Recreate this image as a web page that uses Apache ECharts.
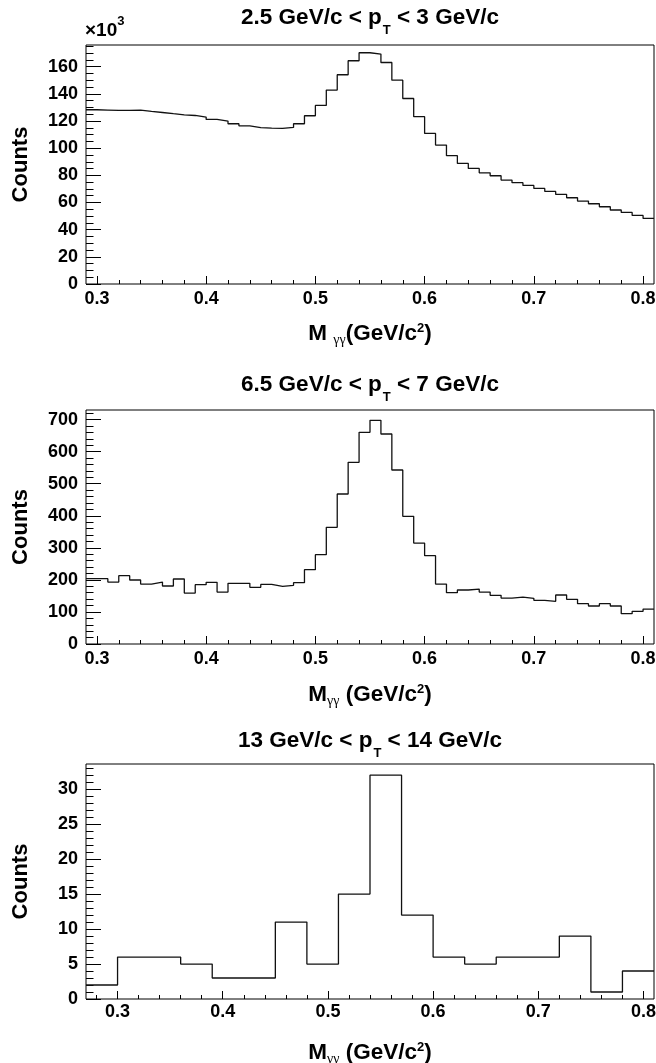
<!DOCTYPE html>
<html>
<head>
<meta charset="utf-8">
<script src="https://cdn.jsdelivr.net/npm/echarts@6/dist/echarts.min.js"></script>
<style>
  html, body { margin: 0; padding: 0; background: #fff; }
  #chart { width: 656px; height: 1063px; }
</style>
</head>
<body>
<div id="chart"></div>
<script>
// --- data ---

// 2.5 GeV/c < pT < 3 GeV/c, counts in units of 10^3, bins of 0.01 from 0.29
const binLo1 = 0.29;
const binW1 = 0.01;
const counts1 = [
  128.3, 128.1, 127.8, 127.8, 128.1, 127.1, 126.3, 125.4, 124.6, 124.1,
  122.9, 121.2, 120.0, 118.0, 116.5, 115.1, 114.8, 114.6, 115.3, 118.0,
  123.9, 131.5, 142.8, 154.1, 164.4, 170.3, 169.3, 163.1, 150.1, 136.6,
  123.2, 110.9, 102.3, 94.5, 88.8, 85.1, 81.9, 79.7, 76.5, 74.6,
  72.6, 70.4, 68.2, 66.0, 63.5, 61.1, 59.1, 56.9, 54.5, 52.7,
  50.5, 48.3
];

// 6.5 GeV/c < pT < 7 GeV/c, bins of 0.01 from 0.29
const binLo2 = 0.29;
const binW2 = 0.01;
const counts2 = [
  203.7, 203.7, 193.3, 213.1, 199.6, 187.1, 193.3, 180.9, 202.7, 159.0,
  185.0, 192.3, 162.1, 189.2, 189.2, 176.7, 186.0, 179.8, 182.9, 191.3,
  231.8, 278.6, 363.9, 467.9, 566.7, 660.3, 697.7, 655.1, 542.8, 398.2,
  315.0, 275.5, 187.1, 160.1, 168.4, 171.5, 162.1, 151.7, 143.4, 146.5,
  142.4, 136.1, 133.0, 152.8, 139.3, 125.7, 118.5, 125.7, 118.5, 94.5,
  101.8, 109.1
];

// 13 GeV/c < pT < 14 GeV/c, bins of 0.03 from 0.27
const binLo3 = 0.27;
const binW3 = 0.03;
const counts3 = [2, 6, 6, 5, 3, 3, 11, 5, 15, 32, 12, 6, 5, 6, 6, 9, 1, 4];

// tick labels
const massTicks = [0.3, 0.4, 0.5, 0.6, 0.7, 0.8];
const massMinorStep = 0.02;
const yTicks1 = [0, 20, 40, 60, 80, 100, 120, 140, 160];
const yTicks2 = [0, 100, 200, 300, 400, 500, 600, 700];
const yTicks3 = [0, 5, 10, 15, 20, 25, 30];

const titles = [
  '{t|2.5 GeV/c < p}{s|T}{t| < 3 GeV/c}',
  '{t|6.5 GeV/c < p}{s|T}{t| < 7 GeV/c}',
  '{t|13 GeV/c < p}{s|T}{t| < 14 GeV/c}'
];
const massNames = [
  '{m|M }{g|γγ}{m|(GeV/c}{sup|2}{m|)}',
  '{m|M}{g|γγ}{m| (GeV/c}{sup|2}{m|)}',
  '{m|M}{g|γγ}{m| (GeV/c}{sup|2}{m|)}'
];

// --- layout ---
const fontFamily = 'Liberation Sans, Arial, Helvetica, sans-serif';
const frameLeft = 86;
const frameWidth = 568;
const panels = [
  { top: 45, height: 239, xMin: 0.29, xMax: 0.81, yMax: 176, yTicks: yTicks1, yMinorStep: 5,
    lo: binLo1, w: binW1, counts: counts1, titleTop: 6, labelGap: 6, nameGap: 38 },
  { top: 410, height: 234, xMin: 0.29, xMax: 0.81, yMax: 730, yTicks: yTicks2, yMinorStep: 20,
    lo: binLo2, w: binW2, counts: counts2, titleTop: 373, labelGap: 6, nameGap: 39 },
  { top: 764, height: 235, xMin: 0.27, xMax: 0.81, yMax: 33.6, yTicks: yTicks3, yMinorStep: 1,
    lo: binLo3, w: binW3, counts: counts3, titleTop: 729, labelGap: 4, nameGap: 42 }
];

function minorValues(lo, hi, step, majors) {
  const out = [];
  const n = Math.floor(hi / step + 1e-6);
  for (let k = Math.ceil(lo / step - 1e-6); k <= n; k++) {
    const v = +(k * step).toFixed(4);
    if (v <= lo || v >= hi) continue;
    if (majors.some(m => Math.abs(m - v) < 1e-6)) continue;
    out.push(v);
  }
  return out;
}

function histPoints(lo, w, counts) {
  const pts = counts.map((c, i) => [+(lo + i * w).toFixed(4), c]);
  pts.push([+(lo + counts.length * w).toFixed(4), counts[counts.length - 1]]);
  return pts;
}

const labelStyle = { fontSize: 18, fontWeight: 'bold', fontFamily: fontFamily, color: '#000' };
const nameRich = {
  m: { fontSize: 22.5, fontWeight: 'bold', fontFamily: fontFamily, color: '#000', lineHeight: 24, verticalAlign: 'top' },
  g: { fontSize: 14, fontFamily: 'Liberation Serif, serif', color: '#000', lineHeight: 14, padding: [11, 0, 0, 0], verticalAlign: 'top' },
  sup: { fontSize: 13, fontWeight: 'bold', fontFamily: fontFamily, color: '#000', lineHeight: 12, verticalAlign: 'top' }
};
const titleRich = {
  t: { fontSize: 22.5, fontWeight: 'bold', fontFamily: fontFamily, fill: '#000', lineHeight: 24, verticalAlign: 'top' },
  s: { fontSize: 13, fontWeight: 'bold', fontFamily: fontFamily, fill: '#000', lineHeight: 12, padding: [18, 0, 0, 1], verticalAlign: 'top' }
};

const grids = [], xAxes = [], yAxes = [], series = [], graphics = [];

panels.forEach((p, i) => {
  grids.push({
    left: frameLeft, top: p.top, width: frameWidth, height: p.height,
    outerBoundsMode: 'none', containLabel: false,
    show: true, borderColor: '#000', borderWidth: 1, backgroundColor: 'transparent'
  });

  const xBase = {
    type: 'value', gridIndex: i, min: p.xMin, max: p.xMax, position: 'bottom',
    axisLine: { show: false }, splitLine: { show: false }
  };
  xAxes.push(Object.assign({}, xBase, {
    axisTick: { inside: true, length: 8, customValues: massTicks, lineStyle: { color: '#000' } },
    axisLabel: Object.assign({ customValues: massTicks, margin: p.labelGap, formatter: v => v.toFixed(1) }, labelStyle),
    name: massNames[i], nameLocation: 'middle', nameGap: p.nameGap,
    nameTextStyle: { rich: nameRich }
  }));
  xAxes.push(Object.assign({}, xBase, {
    axisTick: { inside: true, length: 4,
      customValues: minorValues(p.xMin, p.xMax, massMinorStep, massTicks), lineStyle: { color: '#000' } },
    axisLabel: { show: false }
  }));

  const yBase = {
    type: 'value', gridIndex: i, min: 0, max: p.yMax, position: 'left',
    axisLine: { show: false }, splitLine: { show: false }
  };
  yAxes.push(Object.assign({}, yBase, {
    axisTick: { inside: true, length: 15, customValues: p.yTicks, lineStyle: { color: '#000' } },
    axisLabel: Object.assign({ customValues: p.yTicks, margin: 8 }, labelStyle),
    name: 'Counts', nameLocation: 'middle', nameRotate: 90, nameGap: 54,
    nameTextStyle: { fontSize: 22, fontWeight: 'bold', fontFamily: fontFamily, color: '#000' }
  }));
  yAxes.push(Object.assign({}, yBase, {
    axisTick: { inside: true, length: 7.5,
      customValues: minorValues(0, p.yMax, p.yMinorStep, p.yTicks), lineStyle: { color: '#000' } },
    axisLabel: { show: false }
  }));

  series.push({
    type: 'line', step: 'end', xAxisIndex: 2 * i, yAxisIndex: 2 * i,
    data: histPoints(p.lo, p.w, p.counts),
    symbol: 'none', silent: true,
    lineStyle: { color: '#111', width: 1.3 }
  });

  graphics.push({
    type: 'text', x: frameLeft + frameWidth / 2, y: p.titleTop,
    style: { text: titles[i], rich: titleRich, align: 'center', verticalAlign: 'top', fill: '#000' }
  });
});

// x10^3 multiplier of the first panel
graphics.push({
  type: 'text', x: 85, y: 15,
  style: {
    text: '{m|×10}{sup|3}', verticalAlign: 'top', fill: '#000',
    rich: {
      m: { fontSize: 19, fontWeight: 'bold', fontFamily: fontFamily, fill: '#000', lineHeight: 22, padding: [6, 0, 0, 0], verticalAlign: 'top' },
      sup: { fontSize: 13, fontWeight: 'bold', fontFamily: fontFamily, fill: '#000', lineHeight: 12, verticalAlign: 'top' }
    }
  }
});

const chart = echarts.init(document.getElementById('chart'));
chart.setOption({
  animation: false,
  backgroundColor: '#fff',
  grid: grids,
  xAxis: xAxes,
  yAxis: yAxes,
  series: series,
  graphic: graphics
});
</script>
</body>
</html>
